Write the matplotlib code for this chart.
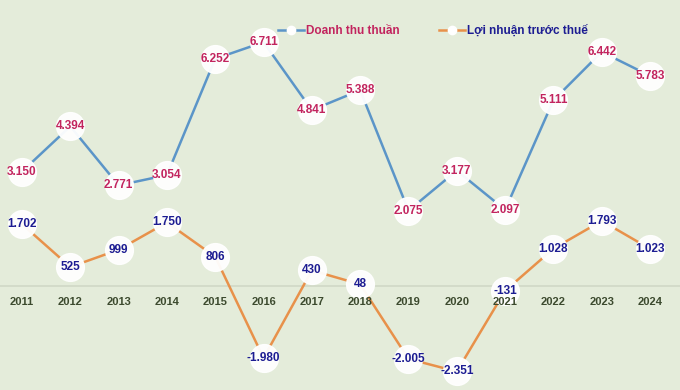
import matplotlib.pyplot as plt
from matplotlib.lines import Line2D

# Data
years = [2011, 2012, 2013, 2014, 2015, 2016, 2017, 2018, 2019, 2020, 2021, 2022, 2023, 2024]
doanh_thu = [3.150, 4.394, 2.771, 3.054, 6.252, 6.711, 4.841, 5.388, 2.075, 3.177, 2.097, 5.111, 6.442, 5.783]
loi_nhuan = [1.702, 0.525, 0.999, 1.750, 0.806, -1.980, 0.430, 0.048, -2.005, -2.351, -0.131, 1.028, 1.793, 1.023]
dt_labels = ["3.150", "4.394", "2.771", "3.054", "6.252", "6.711", "4.841", "5.388", "2.075", "3.177", "2.097", "5.111", "6.442", "5.783"]
ln_labels = ["1.702", "525", "999", "1.750", "806", "-1.980", "430", "48", "-2.005", "-2.351", "-131", "1.028", "1.793", "1.023"]
series_names = ["Doanh thu thuần", "Lợi nhuận trước thuế"]

BG = "#e4ecda"
BLUE = "#5b95c8"
ORANGE = "#e8914a"
PINK = "#c2245e"
NAVY = "#1c1c92"
YEAR_C = "#3c4a2e"

plt.rcParams['font.family'] = ['Liberation Sans', 'DejaVu Sans']

fig = plt.figure(figsize=(6.8, 3.9), dpi=100)
fig.patch.set_facecolor(BG)
ax = fig.add_axes([0, 0, 1, 1])
ax.set_facecolor(BG)
ax.set_xlim(2010.545, 2024.62)
ax.set_ylim(-2.86, 7.87)
ax.axis('off')

# zero line
ax.axhline(0, color="#d0d8c6", lw=1.2, zorder=1)

for vals, labs, lc, tc in [(doanh_thu, dt_labels, BLUE, PINK), (loi_nhuan, ln_labels, ORANGE, NAVY)]:
    ax.plot(years, vals, color=lc, lw=1.8, zorder=2)
    ax.plot(years, vals, 'o', ms=20, mfc='white', mec='white', alpha=0.95, zorder=3)
    for x, y, s in zip(years, vals, labs):
        ax.text(x, y, s, ha='center', va='center', color=tc, fontsize=8.5,
                fontweight='bold', zorder=4)

# year labels
for x in years:
    ax.text(x, -0.44, str(x), ha='center', va='center', color=YEAR_C,
            fontsize=8, fontweight='bold')

handles = [
    Line2D([], [], color=BLUE, lw=1.8, marker='o', ms=6, mfc='white', mec='white'),
    Line2D([], [], color=ORANGE, lw=1.8, marker='o', ms=6, mfc='white', mec='white'),
]
leg = ax.legend(handles, series_names, ncol=2, frameon=False, loc='center',
                bbox_to_anchor=(433 / 680, 1 - 31 / 390), handlelength=2.2,
                columnspacing=3.4, handletextpad=0.15,
                prop={'weight': 'bold', 'size': 8.5})
for t, c in zip(leg.get_texts(), [PINK, NAVY]):
    t.set_color(c)

fig.savefig("out.png", dpi=100, facecolor=BG)
